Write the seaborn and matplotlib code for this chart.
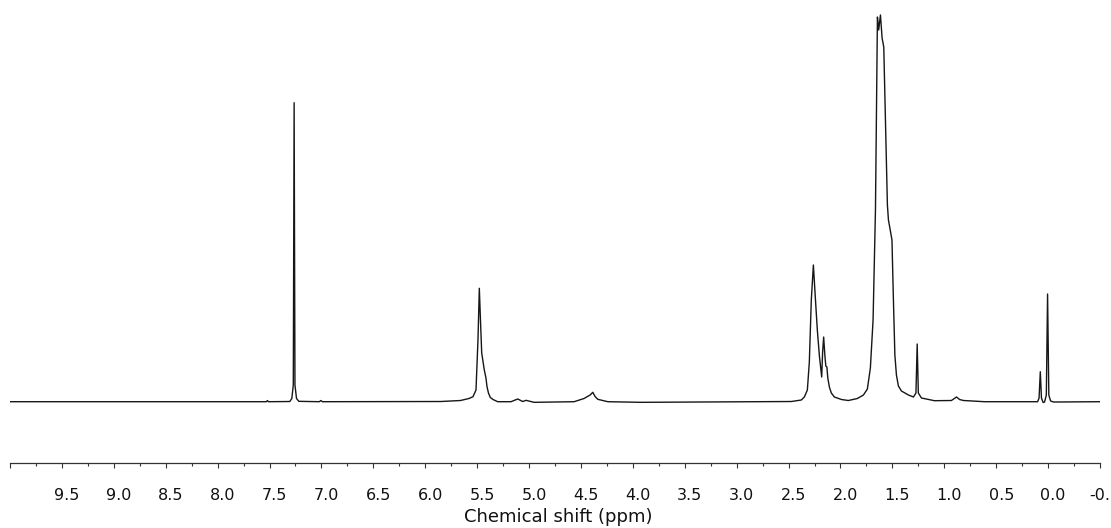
import matplotlib
matplotlib.use("Agg")
import matplotlib.pyplot as plt
import matplotlib.transforms as mtransforms
import numpy as np
import pandas as pd
import seaborn as sns

# ---- data (ppm, relative intensity) ----
shift_ppm = [
    10.00, 7.53, 7.52, 7.51, 7.305, 7.285, 7.271, 7.263, 7.255, 7.240, 7.218,
    7.02, 7.006, 6.99, 5.85, 5.66, 5.579, 5.540, 5.511, 5.492, 5.479, 5.468,
    5.456, 5.431, 5.415, 5.405, 5.391, 5.373, 5.347, 5.302, 5.174, 5.109,
    5.061, 5.029, 4.952, 4.566, 4.470, 4.412, 4.386, 4.364, 4.338, 4.241,
    3.920, 2.473, 2.377, 2.348, 2.319, 2.300, 2.281, 2.261, 2.242, 2.223,
    2.203, 2.181, 2.172, 2.162, 2.150, 2.141, 2.131, 2.122, 2.107, 2.088,
    2.059, 1.991, 1.924, 1.837, 1.779, 1.741, 1.712, 1.686, 1.663, 1.644,
    1.632, 1.615, 1.599, 1.583, 1.567, 1.548, 1.538, 1.519, 1.504, 1.490,
    1.476, 1.461, 1.442, 1.413, 1.345, 1.297, 1.273, 1.261, 1.250, 1.220,
    1.095, 0.931, 0.882, 0.853, 0.815, 0.612, 0.101, 0.087, 0.075, 0.064,
    0.048, 0.034, 0.017, 0.005, -0.007, -0.024, -0.053, -0.50,
]
intensity = [
    0.00, 0.00, 0.30, 0.00, 0.05, 0.83, 4.32, 77.32, 4.32, 0.83, 0.10,
    0.00, 0.30, 0.00, 0.05, 0.31, 0.83, 1.29, 3.03, 15.96, 29.33, 21.13,
    12.59, 8.20, 6.13, 3.88, 2.25, 1.09, 0.57, 0.00, 0.00, 0.70,
    0.05, 0.36, -0.16, 0.00, 0.83, 1.73, 2.43, 1.34, 0.62, 0.00,
    -0.16, 0.05, 0.44, 1.22, 3.03, 10.27, 26.30, 35.35, 26.82, 18.54,
    11.82, 6.39, 12.85, 16.73, 11.82, 9.23, 8.97, 6.13, 3.80, 2.25,
    1.22, 0.57, 0.31, 0.83, 1.73, 3.28, 8.71, 21.13, 49.57, 99.48,
    96.12, 100.00, 94.05, 91.72, 73.00, 50.87, 46.99, 44.14, 41.82, 26.30,
    12.08, 6.90, 4.06, 2.77, 1.73, 1.22, 2.25, 14.92, 2.25, 0.96,
    0.26, 0.31, 1.22, 0.57, 0.31, 0.00, 0.00, 0.96, 7.76, 0.96,
    -0.20, -0.08, 1.73, 27.85, 1.73, 0.18, -0.08, 0.00,
]
major_ticks = [10.0, 9.5, 9.0, 8.5, 8.0, 7.5, 7.0, 6.5, 6.0, 5.5, 5.0, 4.5,
               4.0, 3.5, 3.0, 2.5, 2.0, 1.5, 1.0, 0.5, 0.0, -0.5]
tick_labels = ["", "9.5", "9.0", "8.5", "8.0", "7.5", "7.0", "6.5", "6.0",
               "5.5", "5.0", "4.5", "4.0", "3.5", "3.0", "2.5", "2.0", "1.5",
               "1.0", "0.5", "0.0", "-0.5"]
minor_ticks = [9.75, 9.25, 8.75, 8.25, 7.75, 7.25, 6.75, 6.25, 5.75, 5.25,
               4.75, 4.25, 3.75, 3.25, 2.75, 2.25, 1.75, 1.25, 0.75, 0.25, -0.25]
x_label = "Chemical shift (ppm)"

df = pd.DataFrame({"ppm": shift_ppm, "intensity": intensity})

sns.set_theme(style="ticks")
plt.rcParams["font.family"] = ["DejaVu Sans"]

fig = plt.figure(figsize=(11.11, 5.28), dpi=100)
ax = fig.add_axes([10 / 1111, 65 / 528, 1090 / 1111, 463 / 528])

sns.lineplot(data=df, x="ppm", y="intensity", sort=False, estimator=None,
             color="#161616", linewidth=1.0, ax=ax)

ax.set_xlim(10.0, -0.5)
ax.set_ylim(-15.85, 103.88)

sns.despine(ax=ax, left=True, top=True, right=True)
ax.spines["bottom"].set_color("#333333")
ax.spines["bottom"].set_linewidth(0.9)
ax.set_yticks([])
ax.set_ylabel("")

ax.set_xticks(major_ticks, labels=tick_labels)
ax.set_xticks(minor_ticks, minor=True)
ax.tick_params(axis="x", which="major", direction="out", length=3.9,
               width=0.8, color="#333333", pad=14.0, labelsize=11.5,
               labelcolor="#111111")
ax.tick_params(axis="x", which="minor", direction="out", length=1.9,
               width=0.8, color="#333333")

offset = mtransforms.ScaledTranslation(0.05, 0, fig.dpi_scale_trans)
for t in ax.xaxis.get_major_ticks():
    t.label1.set_transform(t.label1.get_transform() + offset)

ax.set_xlabel(x_label, fontsize=13, color="#111111")
ax.xaxis.set_label_coords((558 - 10) / 1090, -45 / 463)

fig.savefig("out.png", dpi=100)
